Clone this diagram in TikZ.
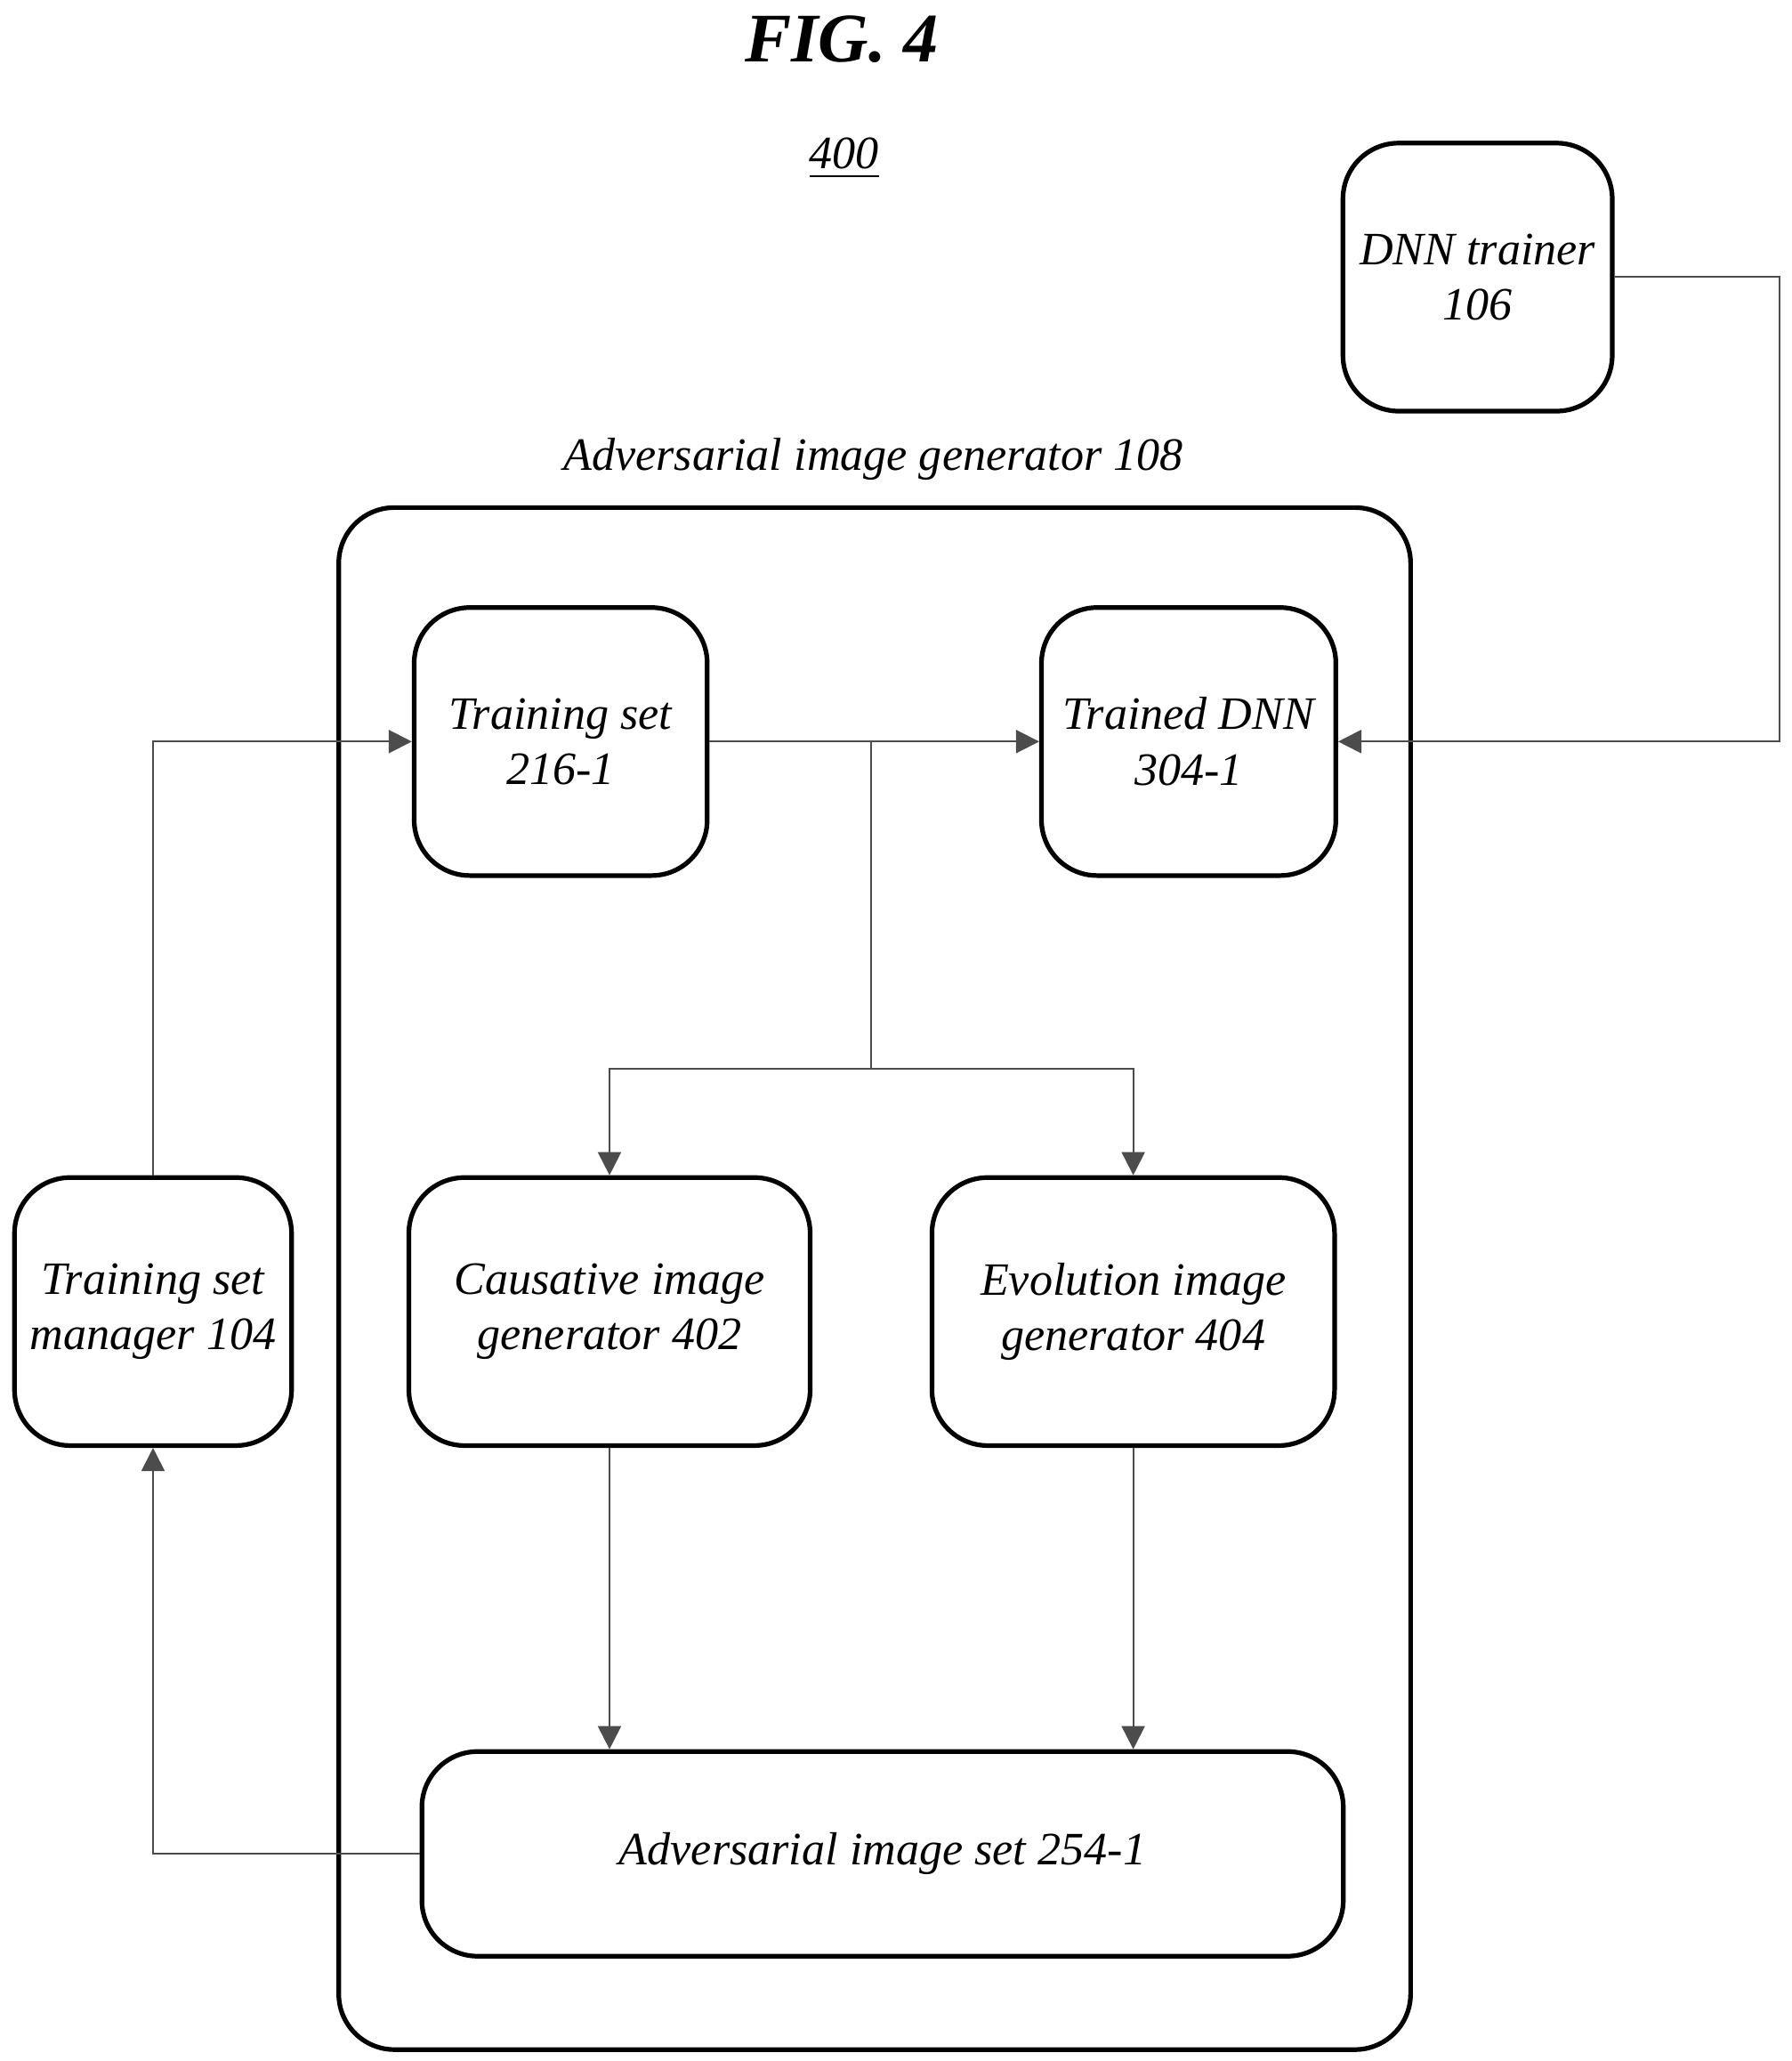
\documentclass[tikz,border=0pt]{standalone}
\usepackage{fontspec}
\setmainfont{Liberation Serif}
\usetikzlibrary{arrows.meta}
\tikzset{
  blk/.style={draw,line width=1pt,rounded corners=12pt,align=center,font=\fontsize{10}{12}\selectfont\itshape},
  con/.style={draw=black!70,line width=0.4pt},
  arr/.style={con,-{Triangle[length=5pt,width=5pt]}}
}
\begin{document}
\begin{tikzpicture}[x=0.01cm,y=-0.01cm]
\useasboundingbox (0,0) rectangle (1358,1562);

% titles
\node (fig) at (638,30) {\fontsize{15}{18}\selectfont\bfseries\itshape FIG. 4};
\node (num) at (640,120) {\fontsize{10}{12}\selectfont\itshape\underline{400}};
\node (aiglbl) at (662,348) {\fontsize{10}{12}\selectfont\itshape Adversarial image generator 108};

% boxes
\node[blk,minimum width=8.12cm,minimum height=11.68cm] (aig) at (663,969) {};
\node[blk,minimum width=2.04cm,minimum height=2.03cm] (trainer) at (1120,210) {DNN trainer\\106};
\node[blk,minimum width=2.22cm,minimum height=2.03cm] (tset) at (425,562) {Training set\\216-1};
\node[blk,minimum width=2.23cm,minimum height=2.03cm] (tdnn) at (901,562) {Trained DNN\\304-1};
\node[blk,minimum width=3.04cm,minimum height=2.03cm] (caus) at (462,994) {Causative image\\generator 402};
\node[blk,minimum width=3.05cm,minimum height=2.03cm] (evol) at (859,994) {Evolution image\\generator 404};
\node[blk,minimum width=2.03cm,minimum height=2.03cm] (mgr) at (116,994) {Training set\\manager 104};
\node[blk,minimum width=6.98cm,minimum height=1.55cm] (aset) at (669,1405) {Adversarial image set 254-1};

% connectors
\coordinate (split) at (660,562);
\coordinate (fork) at (660,810);
\draw[arr] (trainer.east) -- (1349,210) |- (tdnn.east);
\draw[arr] (tset.east) -- (tdnn.west);
\draw[con] (split) -- (fork);
\draw[arr] (fork) -| (caus.north);
\draw[arr] (fork) -| (evol.north);
\draw[arr] (caus.south) -- (caus.south |- aset.north);
\draw[arr] (evol.south) -- (evol.south |- aset.north);
\draw[arr] (aset.west) -| (mgr.south);
\draw[arr] (mgr.north) |- (tset.west);
\end{tikzpicture}
\end{document}
